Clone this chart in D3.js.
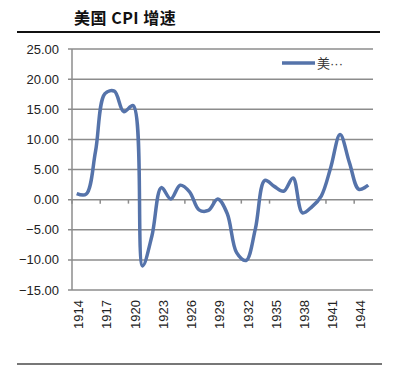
<!DOCTYPE html>
<html>
<head>
<meta charset="utf-8">
<script src="https://cdn.jsdelivr.net/npm/d3@7"></script>
<style>
  body { margin: 0; background: #fff; }
  svg { display: block; }
</style>
</head>
<body>
<div id="chart"></div>
<script>
// US CPI growth, %
const years = [1914,1915,1916,1917,1918,1919,1920,1921,1922,1923,1924,1925,1926,1927,1928,1929,
               1930,1931,1932,1933,1934,1935,1936,1937,1938,1939,1940,1941,1942,1943,1944,1945];
const cpi = [1.0,0.9,8.0,17.6,18.0,14.6,15.6,-11.0,-6.0,2.0,0.1,2.4,1.3,-1.7,-1.8,0.1,
             -2.3,-8.8,-10.1,-4.8,3.2,2.2,1.4,3.6,-2.2,-1.2,0.6,5.3,10.8,6.1,1.7,2.4];
const yTicks = [25,20,15,10,5,0,-5,-10,-15];
const xLabelYears = [1914,1917,1920,1923,1926,1929,1932,1935,1938,1941,1944];
const title = "美国 CPI 增速";
const legendLabel = "美···";

const W = 400, H = 369;
const plot = {left: 72, right: 373, top: 49, bottom: 290};
const lineColor = "#5573aa";
const gridColor = "#8c8c8c";

const svg = d3.select("#chart").append("svg").attr("width", W).attr("height", H);

// title + rules
svg.append("text")
  .attr("x", 74).attr("y", 24)
  .attr("font-family", "'Noto Sans CJK SC', sans-serif")
  .attr("font-weight", 700).attr("font-size", 16)
  .attr("letter-spacing", 0.5)
  .attr("fill", "#111")
  .text(title);
svg.append("line").attr("x1", 17).attr("x2", 380).attr("y1", 32).attr("y2", 32)
  .attr("stroke", "#111").attr("stroke-width", 2);
svg.append("line").attr("x1", 17).attr("x2", 382).attr("y1", 364).attr("y2", 364)
  .attr("stroke", "#777").attr("stroke-width", 2);

const x = d3.scaleBand().domain(years).range([plot.left, plot.right]);
const y = d3.scaleLinear().domain([-15, 25]).range([plot.bottom, plot.top]);

// gridlines
svg.append("g").selectAll("line").data(yTicks).join("line")
  .attr("x1", plot.left - 4).attr("x2", plot.right)
  .attr("y1", d => y(d)).attr("y2", d => y(d))
  .attr("stroke", gridColor).attr("stroke-width", 1.5);

// y labels
svg.append("g").selectAll("text").data(yTicks).join("text")
  .attr("x", 59).attr("y", d => y(d)).attr("dy", "0.35em")
  .attr("text-anchor", "end")
  .attr("font-family", "'Liberation Sans', Arial, sans-serif")
  .attr("font-size", 13).attr("fill", "#222")
  .text(d => d3.format(".2f")(d));

// left axis line
svg.append("line").attr("x1", plot.left).attr("x2", plot.left)
  .attr("y1", plot.top).attr("y2", plot.bottom)
  .attr("stroke", gridColor).attr("stroke-width", 1.5);

// x tick marks on zero line, every 3 categories
const tickIdx = d3.range(0, years.length + 1, 3);
svg.append("g").selectAll("line").data(tickIdx).join("line")
  .attr("x1", i => plot.left + i * x.step()).attr("x2", i => plot.left + i * x.step())
  .attr("y1", y(0)).attr("y2", y(0) + 4)
  .attr("stroke", gridColor).attr("stroke-width", 1.5);

// x labels, rotated
svg.append("g").selectAll("text").data(xLabelYears).join("text")
  .attr("transform", d => `translate(${x(d) + x.bandwidth() / 2 + 2},${plot.bottom + 10}) rotate(-90)`)
  .attr("dy", "0.35em")
  .attr("text-anchor", "end")
  .attr("font-family", "'Liberation Sans', Arial, sans-serif")
  .attr("font-size", 13).attr("fill", "#222")
  .text(d => d);

// series
const pts = years.map((yr, i) => [x(yr) + x.bandwidth() / 2, y(cpi[i])]);
svg.append("path")
  .attr("d", d3.line().curve(d3.curveCatmullRom.alpha(0.5))(pts))
  .attr("fill", "none").attr("stroke", lineColor)
  .attr("stroke-width", 3.5).attr("stroke-linejoin", "round");

// legend
svg.append("line").attr("x1", 282).attr("x2", 315).attr("y1", 63).attr("y2", 63)
  .attr("stroke", lineColor).attr("stroke-width", 3.5);
svg.append("text")
  .attr("x", 317).attr("y", 63).attr("dy", "0.35em")
  .attr("font-family", "'Liberation Sans', 'Noto Sans CJK SC', sans-serif")
  .attr("font-size", 13).attr("fill", "#333")
  .text(legendLabel);
</script>
</body>
</html>
